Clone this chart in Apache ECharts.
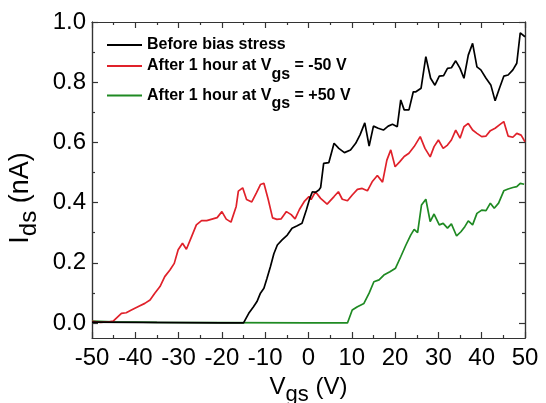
<!DOCTYPE html>
<html>
<head>
<meta charset="utf-8">
<script src="https://cdn.jsdelivr.net/npm/echarts@6/dist/echarts.min.js"></script>
<style>
  html, body { margin: 0; padding: 0; background: #fff; }
  #chart { width: 546px; height: 403px; }
</style>
</head>
<body>
<div id="chart"></div>
<script>
// Transfer curves I_ds(V_gs) before and after gate-bias stress
const seriesNames = ['Before bias stress', 'After 1 hour at Vgs = -50 V', 'After 1 hour at Vgs = +50 V'];
const seriesColors = ['#000000', '#e0212a', '#1f8a23'];

const xTicks = [-50, -40, -30, -20, -10, 0, 10, 20, 30, 40, 50];
const yTicks = [0.0, 0.2, 0.4, 0.6, 0.8, 1.0];
const yMinorTicks = [0.1, 0.3, 0.5, 0.7, 0.9];

// Before bias stress
const beforeVgs = [-50, -40, -30, -20, -15, -13.8, -12.7, -11.9, -11.1, -10.3, -9.6, -8.8, -8.0, -7.2, -6.1, -4.9, -3.8, -2.6, -1.5, -0.5, 0.3, 0.9, 1.6, 2.4, 2.8, 3.5, 4.7, 5.9, 7.0, 8.3, 9.7, 10.9, 11.9, 13.0, 14.0, 15.0, 16.1, 17.3, 18.4, 19.4, 20.5, 21.3, 22.1, 23.2, 24.2, 24.8, 26.0, 27.1, 28.2, 29.2, 30.2, 31.2, 32.1, 33.0, 34.0, 35.0, 35.9, 36.9, 37.9, 38.9, 39.8, 41.0, 42.1, 43.1, 44.1, 45.1, 46.1, 47.2, 48.1, 48.9, 50.0];
const beforeIds = [0.003, 0.002, 0.001, 0.0, 0.0, 0.032, 0.054, 0.071, 0.099, 0.115, 0.148, 0.187, 0.23, 0.259, 0.276, 0.292, 0.315, 0.323, 0.331, 0.375, 0.414, 0.436, 0.434, 0.442, 0.45, 0.53, 0.533, 0.597, 0.58, 0.566, 0.575, 0.597, 0.625, 0.665, 0.588, 0.654, 0.647, 0.641, 0.654, 0.66, 0.652, 0.741, 0.708, 0.708, 0.768, 0.768, 0.78, 0.885, 0.813, 0.79, 0.82, 0.822, 0.846, 0.848, 0.871, 0.846, 0.813, 0.89, 0.929, 0.851, 0.841, 0.813, 0.791, 0.738, 0.78, 0.82, 0.824, 0.841, 0.863, 0.964, 0.951];

// After 1 hour at Vgs = -50 V
const negVgs = [-50, -48, -46, -45.1, -43.2, -42.1, -40.9, -39.4, -37.8, -36.6, -35.5, -34.3, -33.2, -32.0, -31.0, -30.1, -29.1, -28.2, -27.0, -25.9, -24.7, -23.5, -22.3, -21.1, -20.0, -19.0, -17.9, -16.7, -16.2, -15.2, -14.3, -13.1, -12.0, -11.1, -10.3, -9.3, -8.3, -7.3, -6.3, -5.1, -4.0, -3.1, -2.1, -0.9, 0.1, 0.6, 1.6, 2.8, 4.3, 5.9, 6.9, 7.8, 9.0, 10.1, 11.3, 12.4, 13.6, 14.7, 15.9, 17.1, 18.1, 19.0, 20.0, 21.1, 22.1, 23.2, 24.4, 25.8, 26.9, 28.1, 29.0, 30.0, 31.1, 32.1, 33.0, 34.0, 35.0, 35.9, 36.9, 37.9, 38.9, 40.0, 41.0, 42.0, 43.1, 44.1, 45.1, 46.1, 47.2, 48.1, 49.1, 50.0];
const negIds = [0.005, 0.002, 0.004, 0.006, 0.032, 0.034, 0.043, 0.054, 0.065, 0.076, 0.099, 0.121, 0.154, 0.176, 0.198, 0.243, 0.265, 0.245, 0.287, 0.326, 0.34, 0.34, 0.345, 0.35, 0.37, 0.345, 0.335, 0.387, 0.438, 0.449, 0.41, 0.402, 0.433, 0.46, 0.464, 0.41, 0.349, 0.344, 0.346, 0.37, 0.36, 0.346, 0.377, 0.405, 0.42, 0.41, 0.436, 0.414, 0.395, 0.42, 0.436, 0.411, 0.406, 0.425, 0.444, 0.447, 0.439, 0.469, 0.49, 0.468, 0.541, 0.575, 0.519, 0.536, 0.553, 0.564, 0.586, 0.619, 0.58, 0.552, 0.586, 0.608, 0.58, 0.591, 0.608, 0.641, 0.614, 0.652, 0.663, 0.641, 0.63, 0.619, 0.621, 0.639, 0.647, 0.658, 0.669, 0.621, 0.617, 0.63, 0.624, 0.602];

// After 1 hour at Vgs = +50 V
const posVgs = [-50, -45, -35, -20, 0, 9.0, 10.1, 11.3, 12.8, 14.0, 15.1, 16.3, 17.4, 18.8, 20.1, 21.3, 22.5, 23.6, 24.4, 25.2, 26.1, 27.1, 28.1, 29.0, 30.2, 31.1, 32.1, 33.0, 34.2, 35.2, 36.1, 36.9, 37.9, 38.9, 40.0, 41.0, 42.0, 42.9, 43.9, 45.1, 46.1, 47.2, 48.1, 48.9, 49.8];
const posIds = [0.006, 0.004, 0.002, 0.001, 0.0, 0.0, 0.043, 0.054, 0.065, 0.099, 0.137, 0.143, 0.159, 0.17, 0.182, 0.22, 0.259, 0.292, 0.311, 0.3, 0.392, 0.411, 0.337, 0.362, 0.326, 0.331, 0.315, 0.329, 0.289, 0.303, 0.32, 0.339, 0.326, 0.364, 0.375, 0.373, 0.398, 0.381, 0.398, 0.439, 0.445, 0.45, 0.453, 0.464, 0.461];

const pairs = (xs, ys) => xs.map((x, i) => [x, ys[i]]);
const curves = [pairs(beforeVgs, beforeIds), pairs(negVgs, negIds), pairs(posVgs, posIds)];

const FONT = 'Liberation Sans, Arial, sans-serif';
const AXIS_COLOR = '#333333';
const Y_MIN = -0.05;
const Y_MAX = 1.0;

// Legend text with V_gs subscripts
const legendRich = {
  b: { fontFamily: FONT, fontSize: 16, fontWeight: 'bold', color: '#000' },
  s: { fontFamily: FONT, fontSize: 16, fontWeight: 'bold', color: '#000', padding: [17, 0, 0, 0] }
};
function legendLabel(name) {
  const parts = name.split('Vgs');
  if (parts.length === 1) return '{b|' + name + '}';
  return '{b|' + parts[0] + 'V}{s|gs}{b|' + parts[1] + '}';
}

const xNameRich = {
  m: { fontFamily: FONT, fontSize: 24, color: '#000' },
  s: { fontFamily: FONT, fontSize: 22, color: '#000', padding: [16, 0, 0, 0] }
};
const yNameRich = {
  m: { fontFamily: FONT, fontSize: 27, color: '#000' },
  s: { fontFamily: FONT, fontSize: 24, color: '#000', padding: [18, 0, 0, 0] }
};

const tickStyle = { color: AXIS_COLOR, width: 1.2 };

// y axes: value scale from Y_MIN, ticks and labels only at the listed values
function yAxisDef(position, ticks, tickLen, withLabels, withName) {
  const def = {
    type: 'value', position: position, offset: 0,
    min: Y_MIN, max: Y_MAX,
    axisLine: { show: true, onZero: false, lineStyle: tickStyle },
    axisTick: { show: true, inside: true, length: tickLen, customValues: ticks, lineStyle: tickStyle },
    axisLabel: withLabels
      ? { show: true, margin: 6, customValues: ticks, fontFamily: FONT, fontSize: 24, color: '#000',
          formatter: v => v.toFixed(1) }
      : { show: false },
    splitLine: { show: false }
  };
  if (withName) {
    def.name = '{m|I}{s|ds}{m| (nA)}';
    def.nameLocation = 'middle';
    def.nameGap = 50;
    def.nameRotate = 90;
    def.nameTextStyle = { rich: yNameRich, padding: [0, 36, 0, 0] };
  }
  return def;
}

function xAxisDef(position, withLabels) {
  const def = {
    type: 'value', position: position,
    min: xTicks[0], max: xTicks[xTicks.length - 1], interval: 10,
    axisLine: { show: true, onZero: false, lineStyle: tickStyle },
    axisTick: { show: true, inside: true, length: 6, lineStyle: tickStyle },
    minorTick: { show: true, splitNumber: 2, length: 3, lineStyle: tickStyle },
    axisLabel: withLabels
      ? { show: true, margin: 8, fontFamily: FONT, fontSize: 24, color: '#000' }
      : { show: false },
    splitLine: { show: false }
  };
  if (withLabels) {
    def.name = '{m|V}{s|gs}{m| (V)}';
    def.nameLocation = 'middle';
    def.nameGap = 28;
    def.nameTextStyle = { rich: xNameRich };
  }
  return def;
}

const chart = echarts.init(document.getElementById('chart'), null, { renderer: 'canvas' });

chart.setOption({
  animation: false,
  backgroundColor: '#ffffff',
  grid: {
    left: 92, right: 21, top: 22, bottom: 65,
    outerBoundsMode: 'none',
    containLabel: false,
    show: false
  },
  legend: {
    orient: 'vertical',
    left: 107,
    top: 37,
    padding: 0,
    itemWidth: 35,
    itemHeight: 2,
    itemGap: 5,
    icon: 'rect',
    data: seriesNames,
    formatter: legendLabel,
    textStyle: { rich: legendRich }
  },
  xAxis: [xAxisDef('bottom', true), xAxisDef('top', false)],
  yAxis: [
    yAxisDef('left', yTicks, 6, true, true),
    yAxisDef('left', yMinorTicks, 3, false, false),
    yAxisDef('right', yTicks, 6, false, false),
    yAxisDef('right', yMinorTicks, 3, false, false)
  ],
  series: curves.map((data, i) => ({
    name: seriesNames[i],
    type: 'line',
    xAxisIndex: 0,
    yAxisIndex: 0,
    data: data,
    symbol: 'none',
    clip: true,
    z: 3 - i,
    lineStyle: { color: seriesColors[i], width: 1.7 },
    itemStyle: { color: seriesColors[i] }
  }))
});
</script>
</body>
</html>
